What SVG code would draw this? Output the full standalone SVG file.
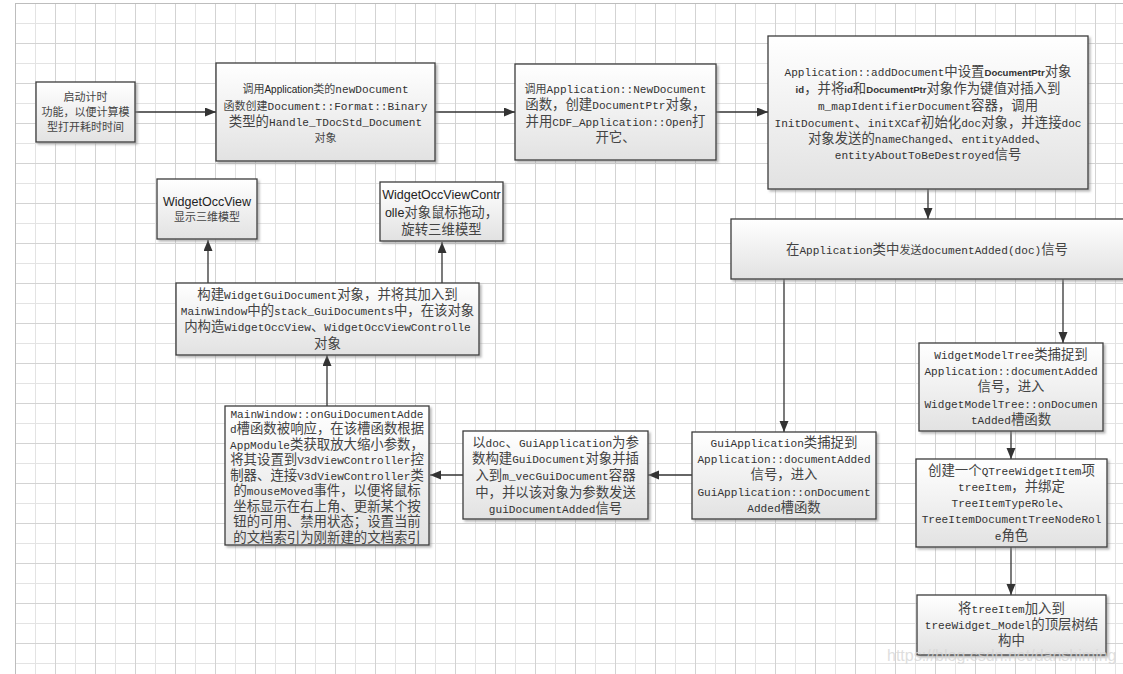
<svg xmlns="http://www.w3.org/2000/svg" width="1123" height="674" viewBox="0 0 1123 674">
<defs>
<style>
.box{fill:url(#boxgrad);stroke:#3c3c3c;stroke-width:1.3;filter:url(#shadow)}
.t{font-family:"Noto Sans CJK SC","Liberation Sans",sans-serif;font-size:13.4px;fill:#444;text-anchor:middle}
.m{font-family:"Liberation Mono","Noto Sans CJK SC",monospace;font-size:11.1px;fill:#333}
.s{font-family:"Liberation Sans","Noto Sans CJK SC",sans-serif;font-size:12.5px;fill:#222}
.ss{font-family:"Liberation Sans","Noto Sans CJK SC",sans-serif;font-size:10px;fill:#222}
.sb{font-family:"Liberation Sans","Noto Sans CJK SC",sans-serif;font-size:9.6px;font-weight:bold;fill:#333}
.k{font-size:11px}
.c{fill:none;stroke:#333;stroke-width:1.3;marker-end:url(#arrow)}
.wm{font-family:"Liberation Sans",sans-serif;font-size:16px;fill:#d6d6d6;fill-opacity:0.8}
</style>
<linearGradient id="boxgrad" x1="0" y1="0" x2="0" y2="1">
<stop offset="0" stop-color="#ffffff"/>
<stop offset="1" stop-color="#e2e2e2"/>
</linearGradient>
<filter id="shadow" x="-5%" y="-5%" width="115%" height="125%">
<feDropShadow dx="2" dy="2" stdDeviation="0.8" flood-color="#8a8a8a" flood-opacity="0.6"/>
</filter>
<marker id="arrow" markerUnits="userSpaceOnUse" markerWidth="12" markerHeight="10" refX="11" refY="4.5" orient="auto">
<path d="M0,0 L11,4.5 L0,9 z" fill="#333"/>
</marker>
<pattern id="grid" x="15" y="3" width="40" height="40" patternUnits="userSpaceOnUse">
<path d="M20.5,0V40M0,20.5H40" stroke="#e3e3e3" stroke-width="1" fill="none"/>
<path d="M0.5,0V40M0,0.5H40" stroke="#d3d3d3" stroke-width="1" fill="none"/>
</pattern>
</defs>
<rect x="0" y="0" width="1123" height="674" fill="#ffffff"/>
<rect x="15" y="3" width="1108" height="671" fill="url(#grid)"/>
<path d="M15.5,3V674M15,3.5H1123" stroke="#bdbdbd" stroke-width="1" fill="none"/>

<g id="connectors">
<path class="c" d="M135,112H216"/>
<path class="c" d="M435,112H515"/>
<path class="c" d="M716,112H768"/>
<path class="c" d="M928,189V219"/>
<path class="c" d="M784,279V432"/>
<path class="c" d="M1063,279V343"/>
<path class="c" d="M1011,431V459"/>
<path class="c" d="M1011,547V595"/>
<path class="c" d="M692,475H648"/>
<path class="c" d="M463,475H430"/>
<path class="c" d="M327,406V355"/>
<path class="c" d="M208,283V240"/>
<path class="c" d="M442,283V242"/>
</g>

<g id="n-start">
<rect class="box" x="36" y="82" width="99" height="60"/>
<text class="t k"><tspan x="85.5" y="101">启动计时</tspan><tspan x="85.5" y="116">功能，以便计算模</tspan><tspan x="85.5" y="130.5">型打开耗时时间</tspan></text>
</g>

<g id="n-newdoc">
<rect class="box" x="216" y="63" width="219" height="98"/>
<text class="t"><tspan x="325.5" y="93"><tspan class="k">调用</tspan><tspan class="ss">Application</tspan><tspan class="k">类的</tspan><tspan class="m">newDocument</tspan></tspan><tspan x="325.5" y="109.5"><tspan class="k">函数创建</tspan><tspan class="m">Document::Format::Binary</tspan></tspan><tspan x="325.5" y="125.5">类型的<tspan class="m">Handle_TDocStd_Document</tspan></tspan><tspan x="325.5" y="141.5" class="k">对象</tspan></text>
</g>

<g id="n-appnewdoc">
<rect class="box" x="515" y="64" width="201" height="96"/>
<text class="t"><tspan x="615.5" y="92.5"><tspan class="k">调用</tspan><tspan class="m">Application::NewDocument</tspan></tspan><tspan x="615.5" y="109">函数，创建<tspan class="m">DocumentPtr</tspan>对象，</tspan><tspan x="615.5" y="125.5">并用<tspan class="m">CDF_Application::Open</tspan>打</tspan><tspan x="615.5" y="142">开它、</tspan></text>
</g>

<g id="n-adddoc">
<rect class="box" x="768" y="36" width="320" height="153"/>
<text class="t"><tspan x="928" y="75.5"><tspan class="m">Application::addDocument</tspan>中设置<tspan class="sb">DocumentPtr</tspan>对象</tspan><tspan x="928" y="93"><tspan class="sb">id</tspan>，并将<tspan class="sb">id</tspan>和<tspan class="sb">DocumentPtr</tspan>对象作为键值对插入到</tspan><tspan x="928" y="110"><tspan class="m">m_mapIdentifierDocument</tspan>容器，调用</tspan><tspan x="928" y="126.5"><tspan class="m">InitDocument</tspan>、<tspan class="m">initXCaf</tspan>初始化<tspan class="m">doc</tspan>对象，并连接<tspan class="m">doc</tspan></tspan><tspan x="928" y="142.5">对象发送的<tspan class="m">nameChanged</tspan>、<tspan class="m">entityAdded</tspan>、</tspan><tspan x="928" y="159"><tspan class="m">entityAboutToBeDestroyed</tspan>信号</tspan></text>
</g>

<g id="n-docadded">
<rect class="box" x="731" y="219" width="400" height="60"/>
<text class="t" x="927" y="254">在<tspan class="m">Application</tspan>类中<tspan class="k">发送</tspan><tspan class="m">documentAdded(doc)</tspan>信号</text>
</g>

<g id="n-modeltree">
<rect class="box" x="919" y="343" width="184" height="88"/>
<text class="t"><tspan x="1011" y="359"><tspan class="m">WidgetModelTree</tspan>类捕捉到</tspan><tspan x="1011" y="375" class="m">Application::documentAdded</tspan><tspan x="1011" y="391">信号，进入</tspan><tspan x="1011" y="407.5" class="m">WidgetModelTree::onDocumen</tspan><tspan x="1011" y="424"><tspan class="m">tAdded</tspan>槽函数</tspan></text>
</g>

<g id="n-treeitem">
<rect class="box" x="916" y="459" width="191" height="88"/>
<text class="t"><tspan x="1011.5" y="475">创建一个<tspan class="m">QTreeWidgetItem</tspan>项</tspan><tspan x="1011.5" y="491"><tspan class="m">treeItem</tspan>，并绑定</tspan><tspan x="1011.5" y="506.5"><tspan class="m">TreeItemTypeRole</tspan>、</tspan><tspan x="1011.5" y="523" class="m">TreeItemDocumentTreeNodeRol</tspan><tspan x="1011.5" y="540"><tspan class="m">e</tspan>角色</tspan></text>
</g>

<g id="n-toplevel">
<rect class="box" x="917" y="595" width="189" height="60"/>
<text class="t"><tspan x="1011.5" y="613">将<tspan class="m">treeItem</tspan>加入到</tspan><tspan x="1011.5" y="629"><tspan class="m">treeWidget_Model</tspan>的顶层树结</tspan><tspan x="1011.5" y="645">构中</tspan></text>
</g>

<g id="n-guiapp">
<rect class="box" x="692" y="432" width="184" height="87"/>
<text class="t"><tspan x="784" y="446.5"><tspan class="m">GuiApplication</tspan>类捕捉到</tspan><tspan x="784" y="463" class="m">Application::documentAdded</tspan><tspan x="784" y="479">信号，进入</tspan><tspan x="784" y="495.5" class="m">GuiApplication::onDocument</tspan><tspan x="784" y="512"><tspan class="m">Added</tspan>槽函数</tspan></text>
</g>

<g id="n-guidoc">
<rect class="box" x="463" y="431" width="185" height="88"/>
<text class="t"><tspan x="555.5" y="446.5">以<tspan class="m">doc</tspan>、<tspan class="m">GuiApplication</tspan>为参</tspan><tspan x="555.5" y="463">数构建<tspan class="m">GuiDocument</tspan>对象并插</tspan><tspan x="555.5" y="479.5">入到<tspan class="m">m_vecGuiDocument</tspan>容器</tspan><tspan x="555.5" y="496.5">中，并以该对象为参数发送</tspan><tspan x="555.5" y="512.5"><tspan class="m">guiDocumentAdded</tspan>信号</tspan></text>
</g>

<g id="n-mainwindow">
<rect class="box" x="225" y="406" width="204" height="139"/>
<text class="t"><tspan x="327" y="417.5" class="m">MainWindow::onGuiDocumentAdde</tspan><tspan x="327" y="433"><tspan class="m">d</tspan>槽函数被响应，在该槽函数根据</tspan><tspan x="327" y="448.5"><tspan class="m">AppModule</tspan>类获取放大缩小参数，</tspan><tspan x="327" y="464">将其设置到<tspan class="m">V3dViewController</tspan>控</tspan><tspan x="327" y="479.5">制器、连接<tspan class="m">V3dViewController</tspan>类</tspan><tspan x="327" y="495">的<tspan class="m">mouseMoved</tspan>事件，以便将鼠标</tspan><tspan x="327" y="510.5">坐标显示在右上角、更新某个按</tspan><tspan x="327" y="526">钮的可用、禁用状态；设置当前</tspan><tspan x="327" y="541.5">的文档索引为刚新建的文档索引</tspan></text>
</g>

<g id="n-widgetguidoc">
<rect class="box" x="176" y="283" width="303" height="72"/>
<text class="t"><tspan x="327.5" y="299">构建<tspan class="m">WidgetGuiDocument</tspan>对象，并将其加入到</tspan><tspan x="327.5" y="315"><tspan class="m">MainWindow</tspan>中的<tspan class="m">stack_GuiDocuments</tspan>中，在该对象</tspan><tspan x="327.5" y="331">内构造<tspan class="m">WidgetOccView</tspan>、<tspan class="m">WidgetOccViewControlle</tspan></tspan><tspan x="327.5" y="347.5">对象</tspan></text>
</g>

<g id="n-occview">
<rect class="box" x="157" y="179" width="100" height="60"/>
<text class="t"><tspan x="207" y="206" class="s">WidgetOccView</tspan><tspan x="207" y="221" class="k">显示三维模型</tspan></text>
</g>

<g id="n-occviewctrl">
<rect class="box" x="380" y="182" width="123" height="59"/>
<text class="t"><tspan x="441.5" y="198.5" class="s">WidgetOccViewContr</tspan><tspan x="441.5" y="217"><tspan class="s">olle</tspan>对象鼠标拖动，</tspan><tspan x="441.5" y="233.5">旋转三维模型</tspan></text>
</g>

<text class="wm" x="887" y="661">https://blog.csdn.net/danshiming</text>
</svg>
